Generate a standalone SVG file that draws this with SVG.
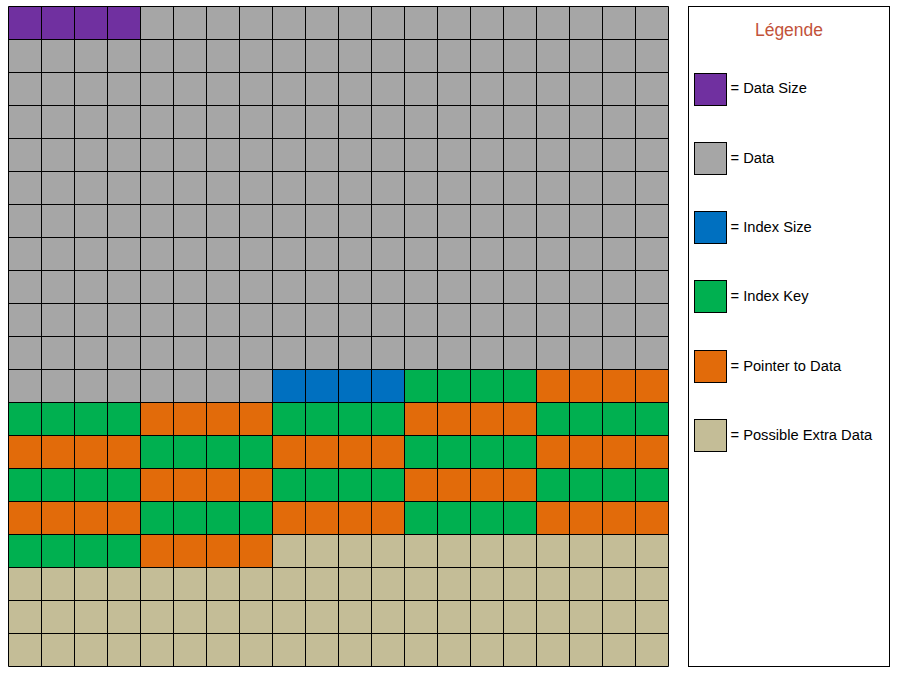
<svg xmlns="http://www.w3.org/2000/svg" width="897" height="676" viewBox="0 0 897 676">
<style>
.p{fill:#7030A0}.g{fill:#A6A6A6}.b{fill:#0070C0}.k{fill:#00B050}.o{fill:#E26B0A}.t{fill:#C4BD97}
.sw{stroke:#000;stroke-width:1}
.lbl{font-family:"Liberation Sans",Arial,sans-serif;font-size:14.7px;fill:#000}
.ttl{font-family:"Liberation Sans",Arial,sans-serif;font-size:17.5px;fill:#C2533A}
</style>
<rect width="897" height="676" fill="#fff"/>
<g id="grid">
<rect class="g" x="8.5" y="6.5" width="660" height="396"/>
<rect class="p" x="8.5" y="6.5" width="132" height="33"/>
<rect class="b" x="272.5" y="369.5" width="132" height="33"/>
<rect class="k" x="404.5" y="369.5" width="132" height="33"/>
<rect class="o" x="536.5" y="369.5" width="132" height="33"/>
<rect class="k" x="8.5" y="402.5" width="132" height="33"/>
<rect class="o" x="140.5" y="402.5" width="132" height="33"/>
<rect class="k" x="272.5" y="402.5" width="132" height="33"/>
<rect class="o" x="404.5" y="402.5" width="132" height="33"/>
<rect class="k" x="536.5" y="402.5" width="132" height="33"/>
<rect class="o" x="8.5" y="435.5" width="132" height="33"/>
<rect class="k" x="140.5" y="435.5" width="132" height="33"/>
<rect class="o" x="272.5" y="435.5" width="132" height="33"/>
<rect class="k" x="404.5" y="435.5" width="132" height="33"/>
<rect class="o" x="536.5" y="435.5" width="132" height="33"/>
<rect class="k" x="8.5" y="468.5" width="132" height="33"/>
<rect class="o" x="140.5" y="468.5" width="132" height="33"/>
<rect class="k" x="272.5" y="468.5" width="132" height="33"/>
<rect class="o" x="404.5" y="468.5" width="132" height="33"/>
<rect class="k" x="536.5" y="468.5" width="132" height="33"/>
<rect class="o" x="8.5" y="501.5" width="132" height="33"/>
<rect class="k" x="140.5" y="501.5" width="132" height="33"/>
<rect class="o" x="272.5" y="501.5" width="132" height="33"/>
<rect class="k" x="404.5" y="501.5" width="132" height="33"/>
<rect class="o" x="536.5" y="501.5" width="132" height="33"/>
<rect class="k" x="8.5" y="534.5" width="132" height="33"/>
<rect class="o" x="140.5" y="534.5" width="132" height="33"/>
<rect class="t" x="272.5" y="534.5" width="396" height="33"/>
<rect class="t" x="8.5" y="567.5" width="660" height="99"/>
<path stroke="#000" stroke-width="1" fill="none" d="M8.5 6.5V666.5M41.5 6.5V666.5M74.5 6.5V666.5M107.5 6.5V666.5M140.5 6.5V666.5M173.5 6.5V666.5M206.5 6.5V666.5M239.5 6.5V666.5M272.5 6.5V666.5M305.5 6.5V666.5M338.5 6.5V666.5M371.5 6.5V666.5M404.5 6.5V666.5M437.5 6.5V666.5M470.5 6.5V666.5M503.5 6.5V666.5M536.5 6.5V666.5M569.5 6.5V666.5M602.5 6.5V666.5M635.5 6.5V666.5M668.5 6.5V666.5M8.5 6.5H668.5M8.5 39.5H668.5M8.5 72.5H668.5M8.5 105.5H668.5M8.5 138.5H668.5M8.5 171.5H668.5M8.5 204.5H668.5M8.5 237.5H668.5M8.5 270.5H668.5M8.5 303.5H668.5M8.5 336.5H668.5M8.5 369.5H668.5M8.5 402.5H668.5M8.5 435.5H668.5M8.5 468.5H668.5M8.5 501.5H668.5M8.5 534.5H668.5M8.5 567.5H668.5M8.5 600.5H668.5M8.5 633.5H668.5M8.5 666.5H668.5"/>
</g>
<g id="legend">
<rect x="688.5" y="6.5" width="201" height="660" fill="#fff" stroke="#000" stroke-width="1"/>
<text class="ttl" x="789" y="36" text-anchor="middle">Légende</text>
<g id="leg-datasize"><rect class="p sw" x="694.5" y="73.5" width="32" height="32"/><text class="lbl" x="730.5" y="93">= Data Size</text></g>
<g id="leg-data"><rect class="g sw" x="694.5" y="142.5" width="32" height="32"/><text class="lbl" x="730.5" y="163">= Data</text></g>
<g id="leg-indexsize"><rect class="b sw" x="694.5" y="211.5" width="32" height="32"/><text class="lbl" x="730.5" y="232">= Index Size</text></g>
<g id="leg-indexkey"><rect class="k sw" x="694.5" y="280.5" width="32" height="32"/><text class="lbl" x="730.5" y="301">= Index Key</text></g>
<g id="leg-pointer"><rect class="o sw" x="694.5" y="350.5" width="32" height="32"/><text class="lbl" x="730.5" y="371">= Pointer to Data</text></g>
<g id="leg-extra"><rect class="t sw" x="694.5" y="419.5" width="32" height="32"/><text class="lbl" x="730.5" y="440">= Possible Extra Data</text></g>
</g>
</svg>
